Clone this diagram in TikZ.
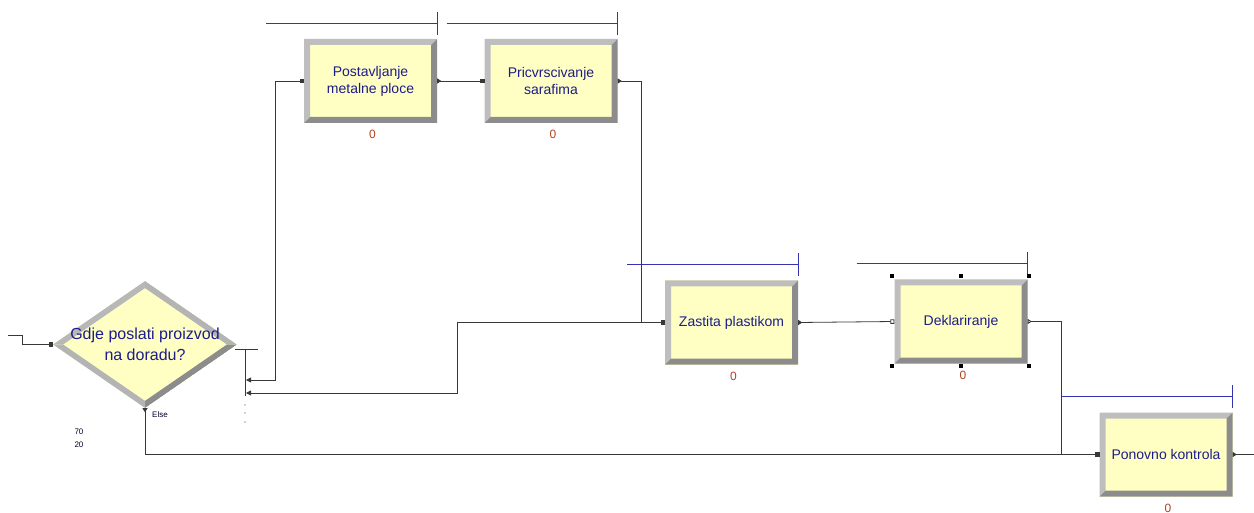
\documentclass[tikz,border=0pt]{standalone}
\usepackage{fontspec}
\setmainfont{Liberation Sans}
\usetikzlibrary{arrows.meta,shapes.geometric}
\definecolor{modfill}{HTML}{FFFFC4}
\definecolor{modtext}{HTML}{1C1C8A}
\definecolor{queueblue}{HTML}{3434B0}
\definecolor{countred}{HTML}{B0401E}
\definecolor{bevellight}{HTML}{BEBEBE}
\definecolor{beveldark}{HTML}{8C8C8C}
\definecolor{wirecol}{HTML}{383838}
\newcommand{\ppb}{path picture bounding box}
\begin{document}
\begin{tikzpicture}[
  x=1pt, y=-1pt,
  module/.style={rectangle, fill=modfill, minimum width=133, minimum height=84,
    inner sep=0pt, text=modtext, align=center, font=\fontsize{14}{17}\selectfont,
    path picture={
      \fill[bevellight] (\ppb.south west) -- (\ppb.north west) -- (\ppb.north east)
        -- ([shift={(-6,6)}]\ppb.north east) -- ([shift={(6,6)}]\ppb.north west)
        -- ([shift={(6,-6)}]\ppb.south west) -- cycle;
      \fill[beveldark] (\ppb.south west) -- (\ppb.south east) -- (\ppb.north east)
        -- ([shift={(-6,6)}]\ppb.north east) -- ([shift={(-6,-6)}]\ppb.south east)
        -- ([shift={(6,-6)}]\ppb.south west) -- cycle;
    }},
  decision/.style={diamond, fill=modfill, minimum width=184, minimum height=127,
    inner sep=-40pt, text=modtext, align=center, font=\fontsize{16}{21}\selectfont,
    path picture={
      \fill[bevellight!110] (\ppb.west) -- (\ppb.north) -- ([shift={(0,7)}]\ppb.north)
        -- ([shift={(10,0)}]\ppb.west) -- cycle;
      \fill[bevellight!80!beveldark] (\ppb.north) -- (\ppb.east) -- ([shift={(-10,0)}]\ppb.east)
        -- ([shift={(0,7)}]\ppb.north) -- cycle;
      \fill[beveldark] (\ppb.east) -- (\ppb.south) -- ([shift={(0,-7)}]\ppb.south)
        -- ([shift={(-10,0)}]\ppb.east) -- cycle;
      \fill[bevellight!80!beveldark] (\ppb.south) -- (\ppb.west) -- ([shift={(10,0)}]\ppb.west)
        -- ([shift={(0,-7)}]\ppb.south) -- cycle;
    }},
  wire/.style={draw=wirecol, line width=0.8pt},
  into/.style={wire, -{Square[length=4pt,width=4.5pt]}},
  link/.style={wire, {Triangle[reversed,length=4pt,width=5pt]}-{Square[length=4pt,width=4.5pt]}},
  branch/.style={wire, {Triangle[length=5pt,width=5pt]}-{Square[length=4pt,width=4.5pt]}},
  queue/.style={draw=queueblue, line width=0.9pt},
  count/.style={text=countred, inner sep=0pt, anchor=north, font=\fontsize{12}{12}\selectfont},
  small/.style={text=black!85!blue, inner sep=0pt, font=\fontsize{8}{12}\selectfont}
]
\useasboundingbox (0,0) rectangle (1254,513);

% modules
\node[decision] (decide) at (145,344.5) {Gdje poslati proizvod\\na doradu?};
\node[module] (plate) at (370.5,81) {Postavljanje\\metalne ploce};
\node[module] (screws) at (551,81) {Pricvrscivanje\\sarafima};
\node[module] (plastic) at (731.5,322.5) {Zastita plastikom};
\node[module] (declare) at (961,321.5) {Deklariranje};
\node[module] (recheck) at (1166,454.5) {Ponovno kontrola};

% queues and counters
\foreach \m in {plate,screws,plastic,declare,recheck}{
  \draw[queue] ([shift={(-171,-15.5)}]\m.north east) -- ([shift={(0,-15.5)}]\m.north east);
  \draw[queue] ([shift={(0,-27)}]\m.north east) -- ([shift={(0,-4)}]\m.north east);
  \node[count] (\m-count) at ([shift={(2,7)}]\m.south) {0};
}

% selection handles
\foreach \hx in {-69.5,0,68}
  \foreach \hy in {-45.5,44.5}
    \fill[black] ([shift={(\hx,\hy)}]declare.center) +(-2,-2) rectangle +(2,2);

% decide labels
\node[small, anchor=west] (else) at (152,415) {Else};
\node[small] (pa) at (79,432) {70};
\node[small] (pb) at (79,444.5) {20};

% branch bar
\coordinate (src) at (8,335.5);
\coordinate (bar) at (245,349);
\coordinate (b1) at (246,380);
\coordinate (b2) at (246,393);
\coordinate (sink) at (1254,454.5);
\draw[wire] ([shift={(-10,0)}]bar) -- ([shift={(13,0)}]bar);
\draw[wire] (bar) -- ++(0,47);
\foreach \d in {405,413,422}
  \fill[wirecol] (245,\d) circle (0.7);

% connections
\draw[into] (src) -- ++(14,0) |- (decide.west);
\draw[branch] (b1) -- ++(29,0) |- (plate.west);
\draw[branch] (b2) -- ++(211,0) |- (plastic.west);
\draw[link] (plate.east) -- (screws.west);
\draw[link] (screws.east) -- ++(24,0) |- (plastic.west);
\draw[wire, {Triangle[reversed,length=4pt,width=5pt]}-{Square[open,length=4pt,width=4.5pt]}]
  (plastic.east) -- (declare.west);
\draw[wire, {Triangle[open,reversed,length=4pt,width=5pt]}-{Square[length=4pt,width=4.5pt]}]
  (declare.east) -- ++(34,0) |- (recheck.west);
\draw[link] (decide.south) |- (recheck.west);
\draw[wire, {Triangle[reversed,length=4pt,width=5pt]}-] (recheck.east) -- (sink);
\end{tikzpicture}
\end{document}
